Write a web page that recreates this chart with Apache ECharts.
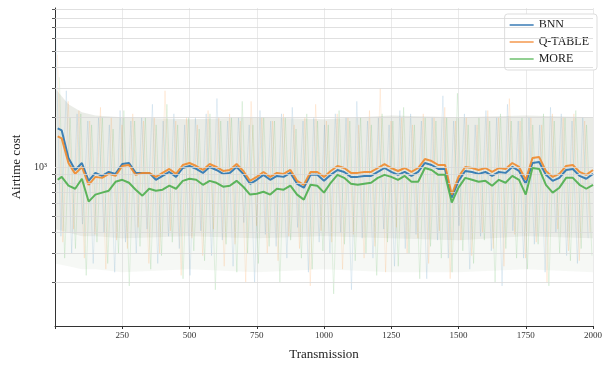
<!DOCTYPE html>
<html><head><meta charset="utf-8">
<script src="https://cdn.jsdelivr.net/npm/echarts@6/dist/echarts.min.js"></script>
<style>html,body{margin:0;padding:0;background:#fff}#c{width:605px;height:366px}</style>
</head><body><div id="c"></div>
<script>
const steps = [10,25,50,75,100,125,150,175,200,225,250,275,300,325,350,375,400,425,450,475,500,525,550,575,600,625,650,675,700,725,750,775,800,825,850,875,900,925,950,975,1000,1025,1050,1075,1100,1125,1150,1175,1200,1225,1250,1275,1300,1325,1350,1375,1400,1425,1450,1475,1500,1525,1550,1575,1600,1625,1650,1675,1700,1725,1750,1775,1800,1825,1850,1875,1900,1925,1950,1975,2000];
const bnn = [1712,1665,1132,959,1057,824,921,883,933,908,1042,1057,921,921,921,836,883,933,871,986,1014,973,921,1000,959,908,921,1000,908,791,836,896,836,883,871,921,791,749,896,896,824,896,959,933,871,871,883,883,933,986,933,896,933,883,933,1057,1028,973,973,652,824,946,933,908,933,883,933,921,1000,946,791,1057,1071,896,824,859,959,973,883,848,908];
const qtable = [1533,1491,1057,908,1000,780,871,859,908,883,1014,1028,896,921,921,871,921,973,908,1028,1057,1014,959,1042,1000,946,959,1042,946,824,871,933,871,921,908,959,824,780,933,933,871,946,1014,986,921,921,933,933,986,1042,986,946,986,933,986,1117,1086,1028,1028,680,871,1000,986,959,986,933,986,973,1057,1000,836,1132,1148,946,871,908,1014,1028,933,896,959];
const more = [836,871,770,738,848,617,680,699,718,813,836,802,728,670,738,718,728,770,738,824,848,836,780,824,802,759,770,824,759,680,689,708,680,738,728,770,680,634,780,770,699,802,896,859,791,780,791,802,859,896,871,836,883,813,813,986,959,896,896,609,749,859,836,813,824,770,836,802,883,836,680,986,973,780,699,749,859,859,780,738,780];

// raw (unsmoothed) per-transmission costs, sampled every 20 transmissions
const rawBNN = [6800,380,2900,300,2100,450,1900,260,2000,400,1800,230,2200,350,1900,300,2000,420,2400,260,1900,380,2100,320,1800,220,2000,410,2100,290,2600,360,1900,250,2000,460,1800,200,2200,390,1900,330,2100,280,2300,430,1900,230,2000,350,1800,300,2100,400,2000,180,2500,370,1900,280,2000,420,1800,250,2200,320,2100,390,1900,210,2000,360,2700,280,1900,440,2100,240,1800,380,2200,310,2000,190,2400,410,1900,280,2000,340,1800,230,2300,400,2100,290,1900,260,2000,370];
const rawQ = [4800,350,2500,420,2200,280,1900,390,2300,240,2000,360,1800,320,2100,430,1900,260,2000,300,2900,410,1900,220,2000,370,1800,290,2200,420,2000,250,2100,340,1900,200,2500,440,2000,300,1900,270,2100,380,1800,320,2000,190,2400,410,1900,350,2100,240,2000,390,1800,280,2200,330,3000,230,1900,430,2000,300,1800,370,2100,260,2000,410,2300,210,1900,360,2000,290,1800,400,2200,320,2000,250,2600,390,1900,280,2000,350,1800,200,2100,420,2000,310,2100,270,1900,400];
const rawM = [3500,280,2000,320,2100,220,1800,350,2000,260,1700,300,2200,190,1900,330,2000,240,1800,290,2400,350,1800,210,2000,310,1700,270,2100,180,1900,340,2000,230,2500,300,1800,260,2000,330,1900,200,2000,360,1700,280,2100,240,1900,310,1800,170,2200,340,1900,270,2000,300,1800,220,2100,350,1900,250,2300,300,1800,210,2000,330,1900,280,2000,230,2800,310,1800,260,2000,360,1900,200,2100,320,1900,280,2000,240,1800,340,2100,190,1900,300,2000,270,2200,320,1800,290];

// spread of the raw samples (dense core and faint outer part)
const hazeX     = [0,   50,  100, 150, 250, 500, 750, 1000,1250,1500,1750,2000];
const hazeHigh  = [3000,2400,2150,2050,2000,1950,2000,1950,2050,2000,2050,2000];
const hazeLow   = [420, 400, 380, 380, 370, 380, 370, 380, 370, 360, 380, 370];
const hazeFloor = [260, 250, 240, 240, 230, 240, 230, 240, 230, 230, 240, 230];

const xTicks = [250,500,750,1000,1250,1500,1750,2000];
const yGridValues = [200,300,400,500,600,700,800,900,1000,2000,3000,4000,5000,6000,7000,8000,9000];

const colors = {BNN:'#1f77b4', 'Q-TABLE':'#ff7f0e', MORE:'#2ca02c'};
const font = 'Liberation Serif';

function rawSeries(name, arr, off, color, extra) {
  return Object.assign({
    name: name + '_raw', type: 'line', silent: true, symbol: 'none',
    data: arr.map((v, i) => [i * 20 + off, v]),
    lineStyle: {color: color, width: 0.8, opacity: 0.15},
    z: 1
  }, extra || {});
}
function mainSeries(name, arr, z, color) {
  return {
    name: name, type: 'line', symbol: 'none', silent: true,
    data: arr.map((v, i) => [steps[i], v]),
    lineStyle: {color: color, width: 2, opacity: 0.9},
    itemStyle: {color: color},
    z: z
  };
}
function bandSeries(name, top, bottom, fill) {
  const data = [];
  for (let i = 0; i < hazeX.length - 1; i++) {
    data.push([hazeX[i], top[i], bottom[i], hazeX[i + 1], top[i + 1], bottom[i + 1]]);
  }
  return {
    name: name, type: 'custom', silent: true, clip: true, z: 0,
    data: data,
    renderItem: function (params, api) {
      const a = api.coord([api.value(0), api.value(1)]);
      const b = api.coord([api.value(3), api.value(4)]);
      const c = api.coord([api.value(3), api.value(5)]);
      const d = api.coord([api.value(0), api.value(2)]);
      return {type: 'polygon', shape: {points: [a, b, c, d]}, style: {fill: fill, stroke: null}};
    }
  };
}

const chart = echarts.init(document.getElementById('c'), null, {renderer: 'canvas'});
chart.setOption({
  animation: false,
  backgroundColor: '#fff',
  grid: {left: 55, right: 8, top: 8, bottom: 36},
  legend: {
    right: 8, top: 14, orient: 'vertical', icon: 'rect', itemWidth: 24, itemHeight: 2,
    itemGap: 5, padding: [5, 8, 5, 5], backgroundColor: '#fff', borderColor: '#ddd', borderWidth: 1, borderRadius: 3,
    textStyle: {fontFamily: font, fontSize: 12, color: '#222'},
    data: [
      {name: 'BNN', itemStyle: {color: '#6a9cc8'}},
      {name: 'Q-TABLE', itemStyle: {color: '#f7b27a'}},
      {name: 'MORE', itemStyle: {color: '#92d092'}}
    ]
  },
  xAxis: {
    type: 'value', min: 0, max: 2000, interval: 250,
    name: 'Transmission', nameLocation: 'middle', nameGap: 22,
    nameTextStyle: {fontFamily: font, fontSize: 13, color: '#222'},
    axisLine: {show: true, lineStyle: {color: '#333', width: 1}},
    axisTick: {show: true, length: 3, lineStyle: {color: '#333'}},
    axisLabel: {fontFamily: font, fontSize: 9, color: '#333', margin: 5,
      formatter: v => (xTicks.indexOf(v) >= 0 ? String(v) : '')},
    splitLine: {show: true, lineStyle: {color: '#e4e4e4', width: 0.8}}
  },
  yAxis: {
    type: 'log', logBase: 10, min: 108.6, max: 9204,
    name: 'Airtime cost', nameLocation: 'middle', nameGap: 30,
    nameTextStyle: {fontFamily: font, fontSize: 13, color: '#222'},
    axisLine: {show: true, lineStyle: {color: '#333', width: 1}},
    axisTick: {show: false},
    minorTick: {show: true, splitNumber: 9, length: 3, lineStyle: {color: '#555'}},
    axisLabel: {fontFamily: font, fontSize: 10, color: '#333', margin: 8, showMinLabel: false, showMaxLabel: false,
      formatter: v => (Math.abs(v - 1000) < 1 ? '10\u00b3' : '')},
    splitLine: {show: false}
  },
  series: [
    bandSeries('haze_core', hazeHigh, hazeLow, 'rgba(160,168,145,0.22)'),
    bandSeries('haze_outer', hazeLow, hazeFloor, 'rgba(170,185,160,0.10)'),
    rawSeries('BNN', rawBNN, 2, colors.BNN, {
      markLine: {
        silent: true, symbol: 'none', animation: false, label: {show: false},
        lineStyle: {color: '#d8d8d8', width: 0.8, type: 'solid', opacity: 1},
        data: yGridValues.map(v => ({yAxis: v}))
      }
    }),
    rawSeries('Q-TABLE', rawQ, 9, colors['Q-TABLE']),
    rawSeries('MORE', rawM, 16, colors.MORE),
    mainSeries('BNN', bnn, 3, '#2a74b0'),
    mainSeries('Q-TABLE', qtable, 4, '#f08a2c'),
    mainSeries('MORE', more, 5, '#4cae4c')
  ]
});
</script>
</body></html>
